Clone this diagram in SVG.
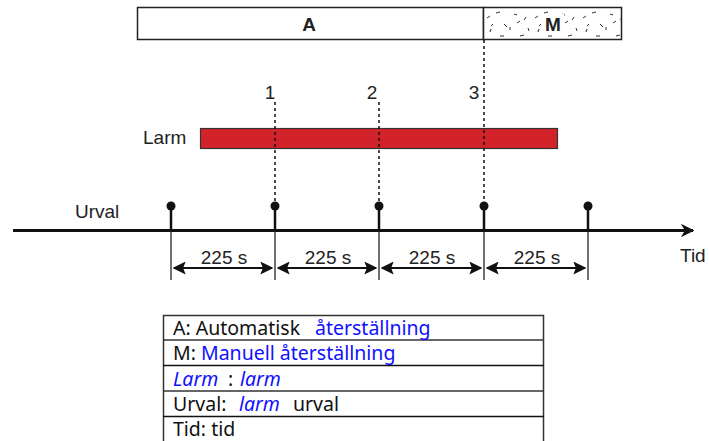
<svg xmlns="http://www.w3.org/2000/svg" width="709" height="441" viewBox="0 0 709 441">
<style>
.lbl{font-family:"Liberation Sans",Arial,sans-serif;font-size:19px;fill:#222}
.tb{font-family:"Noto Sans","Open Sans",sans-serif;font-size:19.5px;fill:#111}
.blue{fill:#1010ff}
.it{font-style:italic}
.dash{stroke:#111;stroke-width:1.5;stroke-dasharray:3,3;fill:none}
.stem{stroke:#111;stroke-width:2.5}
.thin{stroke:#111;stroke-width:1.2}
.dim{stroke:#111;stroke-width:2;fill:none;marker-start:url(#ah);marker-end:url(#ah)}
</style>
<defs>
<marker id="ah" viewBox="0 0 10 10" refX="9" refY="5" markerWidth="6.5" markerHeight="6.5" orient="auto-start-reverse" markerUnits="strokeWidth">
<path d="M0,0 L10,5 L0,10 L2,5 Z" fill="#111"/>
</marker>
<marker id="axh" viewBox="0 0 10 10" refX="9" refY="5" markerWidth="4.5" markerHeight="4.5" orient="auto" markerUnits="strokeWidth">
<path d="M0,0 L10,5 L0,10 L3,5 Z" fill="#111"/>
</marker>
<pattern id="spk" width="48" height="32" patternUnits="userSpaceOnUse" x="484" y="8">
<g stroke="#333" stroke-width="1">
<path d="M3,10 l3,-2 M12,5 l4,-1 M20,16 l3,3 M30,6 l3,1 M40,12 l2,-3 M6,24 l1,-3 M16,28 l4,0 M26,22 l0,-3 M36,28 l4,-1 M44,20 l1,3 M9,16 l-2,2 M33,15 l3,-2"/>
</g>
</pattern>
</defs>
<g id="mode-bar">
<rect x="137.5" y="7.5" width="346" height="32" fill="#fff" stroke="#222" stroke-width="1.5"/>
<rect x="483.5" y="7.5" width="138" height="32" fill="#fff" stroke="#222" stroke-width="1.5"/>
<rect x="484.5" y="8.5" width="136" height="30" fill="url(#spk)"/>
<text x="309" y="31" class="lbl" font-weight="bold" text-anchor="middle" font-size="19">A</text>
<rect x="542" y="14" width="22" height="18" fill="#fff"/>
<text x="553" y="31" class="lbl" font-weight="bold" text-anchor="middle" font-size="20">M</text>
</g>
<g id="larm">
<text x="143" y="144" class="lbl">Larm</text>
<rect x="200.5" y="128.5" width="357" height="20" fill="#d2232a" stroke="#333" stroke-width="1.2"/>
</g>
<g id="markers">
<text x="270" y="99" class="lbl" text-anchor="middle">1</text>
<text x="372" y="99" class="lbl" text-anchor="middle">2</text>
<text x="474" y="99" class="lbl" text-anchor="middle">3</text>
</g>
<g id="connectors">
<line x1="275" y1="102" x2="275" y2="203" class="dash"/>
<line x1="379" y1="102" x2="379" y2="203" class="dash"/>
<line x1="484" y1="40" x2="484" y2="203" class="dash"/>
<line x1="13" y1="230.5" x2="693" y2="230.5" stroke="#111" stroke-width="3" marker-end="url(#axh)"/>
<g id="stems">
<line x1="171" y1="206" x2="171" y2="230" class="stem"/>
<line x1="275" y1="206" x2="275" y2="230" class="stem"/>
<line x1="379" y1="206" x2="379" y2="230" class="stem"/>
<line x1="484" y1="206" x2="484" y2="230" class="stem"/>
<line x1="588" y1="206" x2="588" y2="230" class="stem"/>
<circle cx="171" cy="206" r="4.5" fill="#111"/>
<circle cx="275" cy="206" r="4.5" fill="#111"/>
<circle cx="379" cy="206" r="4.5" fill="#111"/>
<circle cx="484" cy="206" r="4.5" fill="#111"/>
<circle cx="588" cy="206" r="4.5" fill="#111"/>
</g>
<line x1="171" y1="231" x2="171" y2="280" class="thin"/>
<line x1="275" y1="231" x2="275" y2="280" class="thin"/>
<line x1="379" y1="231" x2="379" y2="280" class="thin"/>
<line x1="484" y1="231" x2="484" y2="280" class="thin"/>
<line x1="588" y1="231" x2="588" y2="280" class="thin"/>
<line x1="174" y1="268" x2="272" y2="268" class="dim"/>
<line x1="278" y1="268" x2="376" y2="268" class="dim"/>
<line x1="382" y1="268" x2="481" y2="268" class="dim"/>
<line x1="487" y1="268" x2="585" y2="268" class="dim"/>
</g>
<g id="labels">
<text x="75" y="218" class="lbl">Urval</text>
<text x="680" y="262" class="lbl">Tid</text>
<text x="224" y="264" class="lbl" text-anchor="middle">225 s</text>
<text x="328" y="264" class="lbl" text-anchor="middle">225 s</text>
<text x="432" y="264" class="lbl" text-anchor="middle">225 s</text>
<text x="537" y="264" class="lbl" text-anchor="middle">225 s</text>
</g>
<g id="legend">
<rect x="163.5" y="315.5" width="380" height="127" fill="#fff" stroke="#333" stroke-width="1.5"/>
<line x1="163" y1="340" x2="544" y2="340" stroke="#333" stroke-width="1.5"/>
<line x1="163" y1="365.5" x2="544" y2="365.5" stroke="#111" stroke-width="1.5"/>
<line x1="163" y1="391" x2="544" y2="391" stroke="#333" stroke-width="1.5"/>
<line x1="163" y1="416.5" x2="544" y2="416.5" stroke="#111" stroke-width="1.5"/>
<text x="173" y="335" class="tb">A: Automatisk <tspan class="blue" x="315">återställning</tspan></text>
<text x="173" y="360" class="tb">M: <tspan class="blue">Manuell återställning</tspan></text>
<text x="173" y="386" class="tb"><tspan class="blue it">Larm</tspan><tspan x="228">:</tspan><tspan class="blue it" x="240">larm</tspan></text>
<text x="173" y="410.5" class="tb">Urval: <tspan class="blue it" x="239">larm</tspan><tspan x="293">urval</tspan></text>
<text x="173" y="435.5" class="tb" font-size="18">Tid: tid</text>
</g>
</svg>
